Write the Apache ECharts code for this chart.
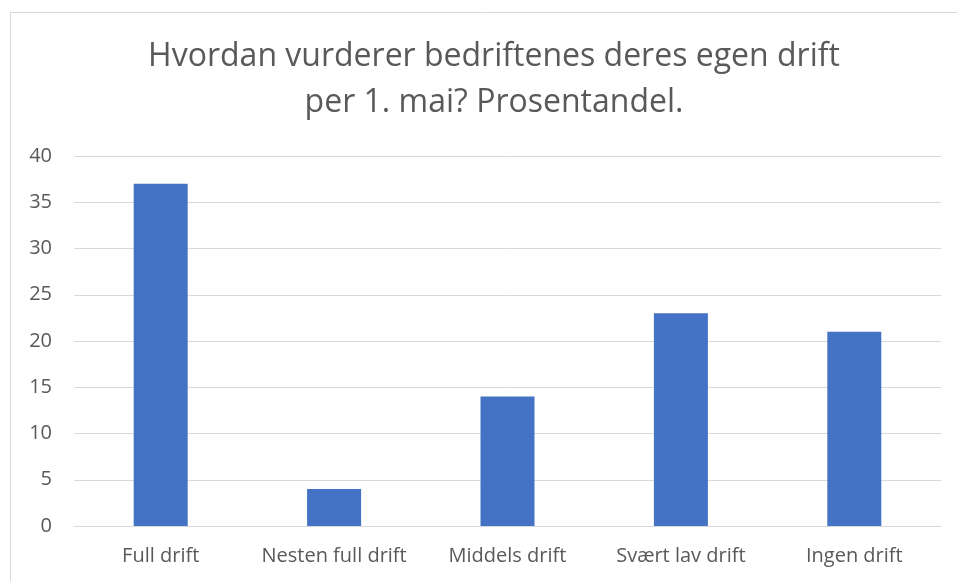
<!DOCTYPE html>
<html>
<head>
<meta charset="utf-8">
<script src="https://cdn.jsdelivr.net/npm/echarts@6/dist/echarts.min.js"></script>
<style>
  html,body{margin:0;padding:0;background:#fff;}
  #chart{width:957px;height:581px;}
</style>
</head>
<body>
<div id="chart"></div>
<script>
// data
const categories = ['Full drift', 'Nesten full drift', 'Middels drift', 'Svært lav drift', 'Ingen drift']
const values = [37, 4, 14, 23, 21]
const yTicks = {min: 0, max: 40, interval: 5}

const chart = echarts.init(document.getElementById('chart'))
const textColor = '#595959'
const font = '"Open Sans", "Noto Sans", sans-serif'

let option = {
  animation: false,
  backgroundColor: '#fff',
  graphic: [
    {
      type: 'rect',
      shape: {x: 10.5, y: 12.5, width: 960, height: 600},
      style: {fill: 'none', stroke: '#d9d9d9', lineWidth: 1}
    }
  ],
  title: {
    text: 'Hvordan vurderer bedriftenes deres egen drift\nper 1. mai? Prosentandel.',
    left: 489,
    textAlign: 'center',
    top: 29,
    textStyle: {
      color: textColor,
      fontFamily: font,
      fontWeight: 'normal',
      fontSize: 32,
      lineHeight: 46
    }
  },
  grid: {
    left: 74,
    right: 16,
    top: 156,
    bottom: 55,
    containLabel: false
  },
  xAxis: {
    type: 'category',
    data: categories,
    axisLine: {show: true, lineStyle: {color: '#d9d9d9', width: 1}},
    axisTick: {show: false},
    axisLabel: {
      color: textColor,
      fontFamily: font,
      fontSize: 20,
      margin: 20,
      interval: 0
    }
  },
  yAxis: {
    type: 'value',
    min: yTicks.min,
    max: yTicks.max,
    interval: yTicks.interval,
    axisLine: {show: false},
    axisTick: {show: false},
    splitLine: {lineStyle: {color: '#d9d9d9', width: 1}},
    axisLabel: {
      color: textColor,
      fontFamily: font,
      fontSize: 20,
      margin: 22
    }
  },
  series: [
    {
      type: 'bar',
      data: values,
      barWidth: 54,
      itemStyle: {color: '#4472c4'}
    }
  ]
}
chart.setOption(option)
</script>
</body>
</html>
